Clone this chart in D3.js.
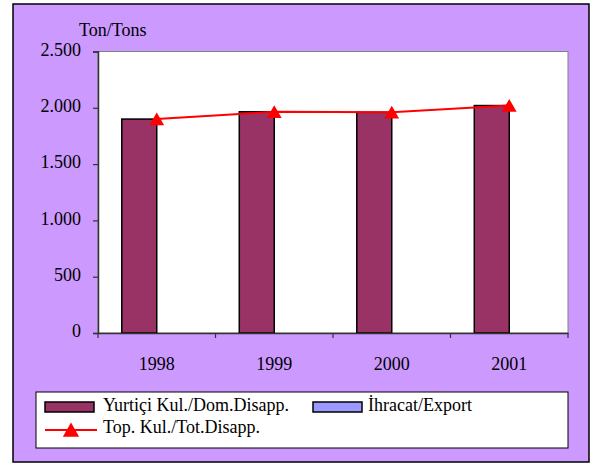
<!DOCTYPE html>
<html>
<head>
<meta charset="utf-8">
<script src="https://cdn.jsdelivr.net/npm/d3@7"></script>
</head>
<body style="margin:0">
<div id="chart"></div>
<script>
// values
var years = ["1998", "1999", "2000", "2001"];
var domestic = [1900, 1965, 1960, 2020];
var exports = [0, 0, 0, 0];
var total = [1900, 1965, 1960, 2020];
var yTicks = [0, 500, 1000, 1500, 2000, 2500];
var seriesNames = ["Yurtiçi Kul./Dom.Disapp.", "İhracat/Export", "Top. Kul./Tot.Disapp."];
var barColors = ["#993366", "#9999FF"];

var serif = "Liberation Serif";
var w = 592, h = 468;
var plot = {left: 98, right: 568, top: 51.5, bottom: 333};

var svg = d3.select("#chart").append("svg")
    .attr("width", w)
    .attr("height", h)
    .attr("font-family", serif)
    .attr("font-size", 18);

// outer frame
svg.append("rect")
    .attr("x", 13).attr("y", 4)
    .attr("width", 576).attr("height", 458)
    .attr("fill", "#CC99FF")
    .attr("stroke", "#000")
    .attr("stroke-width", 1.5);

// plot area
svg.append("rect")
    .attr("x", plot.left).attr("y", plot.top)
    .attr("width", plot.right - plot.left).attr("height", plot.bottom - plot.top)
    .attr("fill", "#fff")
    .attr("stroke", "#808080")
    .attr("stroke-width", 1);

var x = d3.scaleBand().domain(years).range([plot.left, plot.right]);
var xs = d3.scaleBand().domain([0, 1]).range([0, x.bandwidth()]).paddingOuter(0.68);
var y = d3.scaleLinear().domain([0, 2500]).range([plot.bottom, plot.top]);

var loc = d3.formatLocale({decimal: ",", thousands: ".", grouping: [3], currency: ["", ""]});
var fmt = loc.format(",");

// bars
var barData = [];
years.forEach(function(yr, i) {
    barData.push({year: yr, s: 0, v: domestic[i]});
    barData.push({year: yr, s: 1, v: exports[i]});
});
svg.selectAll("rect.bar")
    .data(barData.filter(d => d.v > 0))
    .enter().append("rect")
    .attr("class", "bar")
    .attr("x", d => x(d.year) + xs(d.s))
    .attr("y", d => y(d.v))
    .attr("width", xs.bandwidth())
    .attr("height", d => y(0) - y(d.v))
    .attr("fill", d => barColors[d.s])
    .attr("stroke", "#000")
    .attr("stroke-width", 1.5);

// y axis
var yAxis = svg.append("g")
    .attr("transform", `translate(${plot.left},0)`)
    .call(d3.axisLeft(y).tickValues(yTicks).tickSize(5).tickPadding(12).tickFormat(fmt))
    .attr("font-family", serif)
    .attr("font-size", 18);
yAxis.select(".domain").attr("stroke", "#333").attr("stroke-width", 1.5);
yAxis.selectAll(".tick line").attr("stroke", "#333").attr("stroke-width", 1.2);
yAxis.selectAll("text").attr("fill", "#000").attr("dy", "0.2em");

// x axis
var xAxis = svg.append("g")
    .attr("transform", `translate(0,${plot.bottom})`)
    .call(d3.axisBottom(x).tickSize(0).tickPadding(24))
    .attr("font-family", serif)
    .attr("font-size", 18);
xAxis.select(".domain").attr("stroke", "#333").attr("stroke-width", 1.5);
xAxis.selectAll("text").attr("fill", "#000");
// tick marks between categories
var bounds = years.map(d => x(d)).concat([x(years[years.length - 1]) + x.bandwidth()]);
xAxis.selectAll("line.bound")
    .data(bounds)
    .enter().append("line")
    .attr("class", "bound")
    .attr("x1", d => d).attr("x2", d => d)
    .attr("y1", 0).attr("y2", 5)
    .attr("stroke", "#333")
    .attr("stroke-width", 1.2);

// unit label
svg.append("text")
    .attr("x", 79).attr("y", 36)
    .text("Ton/Tons");

// total line
var cx = d => x(d) + x.bandwidth() / 2;
var line = d3.line()
    .x((d, i) => cx(years[i]))
    .y(d => y(d));
svg.append("path")
    .datum(total)
    .attr("d", line)
    .attr("fill", "none")
    .attr("stroke", "#FF0000")
    .attr("stroke-width", 2);

// triangle marker, nudged down so its box centres on the point
var tri = d3.symbol().type(d3.symbolTriangle).size(95);
svg.selectAll("path.marker")
    .data(total)
    .enter().append("path")
    .attr("class", "marker")
    .attr("d", tri)
    .attr("transform", (d, i) => `translate(${cx(years[i])},${y(d) + 2})`)
    .attr("fill", "#FF0000");

// legend
var lg = svg.append("g");
lg.append("rect")
    .attr("x", 36).attr("y", 392)
    .attr("width", 532).attr("height", 56)
    .attr("fill", "#fff")
    .attr("stroke", "#000")
    .attr("stroke-width", 1);

var swatchX = [45, 313];
var textX = [103, 368];
[0, 1].forEach(function(s) {
    lg.append("rect")
        .attr("x", swatchX[s]).attr("y", 402)
        .attr("width", 49).attr("height", 10)
        .attr("fill", barColors[s])
        .attr("stroke", "#000")
        .attr("stroke-width", 1.5);
    lg.append("text")
        .attr("x", textX[s]).attr("y", 411)
        .text(seriesNames[s]);
});
lg.append("line")
    .attr("x1", 45).attr("x2", 97)
    .attr("y1", 430).attr("y2", 430)
    .attr("stroke", "#FF0000")
    .attr("stroke-width", 2);
lg.append("path")
    .attr("d", d3.symbol().type(d3.symbolTriangle).size(115))
    .attr("transform", "translate(71,432)")
    .attr("fill", "#FF0000");
lg.append("text")
    .attr("x", 103).attr("y", 433)
    .text(seriesNames[2]);
</script>
</body>
</html>
